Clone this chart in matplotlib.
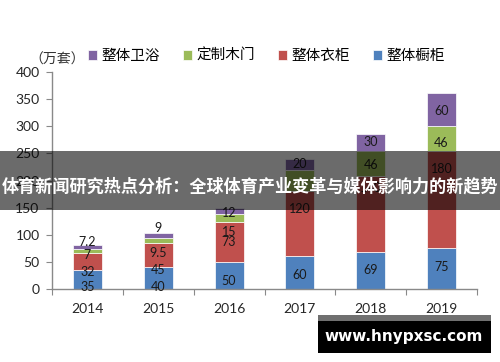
import numpy as np
import matplotlib
matplotlib.use('Agg')
import matplotlib.pyplot as plt
from matplotlib.patches import Rectangle

plt.rcParams['font.family'] = ['Lato', 'Noto Sans CJK SC', 'DejaVu Sans']

# dados
anos = ['2014', '2015', '2016', '2017', '2018', '2019']
series = ['整体橱柜', '整体衣柜', '定制木门', '整体卫浴']
chugui = [35, 40, 50, 60, 69, 75]
yigui = [32, 45, 73, 120, 140, 180]
mumen = [7, 9.5, 15, 40, 46, 46]
weiyu = [7.2, 9, 12, 20, 30, 60]
rotulos = [['35', '40', '50', '60', '69', '75'],
           ['32', '45', '73', '120', '140', '180'],
           ['7', '9.5', '15', '', '46', '46'],
           ['7.2', '9', '12', '20', '30', '60']]
cores = ['#4F81BD', '#C0504D', '#9BBB59', '#8064A2']

# deslocamento dos rotulos (pixels)
desloc = [[-8, -9, -6, -2, 0, 2],
          [-11, -15, 0, 15, 26, 31],
          [-4, -13, -14, 0, -2, -5],
          [5, 7, -2, 0, 1, -1]]

fig = plt.figure(figsize=(5, 3.62), dpi=100)
ax = fig.add_axes([0.104, 0.2017, 0.85, 0.599])

x = np.arange(len(anos))
valores = [chugui, yigui, mumen, weiyu]
base = np.zeros(len(anos))
barras = []
for i, v in enumerate(valores):
    v = np.array(v, dtype=float)
    b = ax.bar(x, v, width=0.41, bottom=base, color=cores[i],
               edgecolor='white', linewidth=0.5, label=series[i], zorder=2)
    barras.append(b)
    for j in range(len(anos)):
        if rotulos[i][j] == '':
            continue
        ax.annotate(rotulos[i][j], (x[j], base[j] + v[j] / 2),
                    xytext=(0, desloc[i][j]), textcoords='offset pixels',
                    ha='center', va='center', fontsize=9, color='#1a1a1a',
                    zorder=3)
    base = base + v

ax.set_xlim(-0.5, 5.5)
ax.set_ylim(0, 400)
ax.set_yticks(np.arange(0, 401, 50))
ax.set_xticks(np.arange(-0.5, 5.6, 1))
ax.set_xticklabels([])
ax.set_xticks(x, minor=True)
ax.set_xticklabels(anos, minor=True)
ax.tick_params(axis='x', which='major', length=4, color='#898989', direction='out')
ax.tick_params(axis='x', which='minor', length=0, pad=10, labelsize=10, labelcolor='#262626')
ax.tick_params(axis='y', length=4, color='#898989', pad=5, labelsize=10, labelcolor='#262626')
for s in ['top', 'right']:
    ax.spines[s].set_visible(False)
for s in ['left', 'bottom']:
    ax.spines[s].set_color('#898989')
    ax.spines[s].set_linewidth(1)

fig.text(0.058, 0.834, '（万套）', fontsize=10, color='#333333',
         family=['Noto Sans CJK SC'], va='center')

h = barras[::-1]
fig.legend(h, series[::-1], loc='center left', bbox_to_anchor=(0.15, 0.845),
           ncol=4, frameon=False, handlelength=0.6,
           handleheight=0.6, handletextpad=0.3, columnspacing=1.6,
           prop={'family': ['Noto Sans CJK SC'], 'size': 10.5})

# faixa escura
fig.patches.append(Rectangle((0, 1 - 210 / 362), 1, 59 / 362, transform=fig.transFigure,
                             facecolor='black', alpha=0.58, zorder=5))
fig.text(0.5, 1 - 186 / 362, '体育新闻研究热点分析：全球体育产业变革与媒体影响力的新趋势',
         ha='center', va='center', color='white', fontsize=12.3, fontweight='bold',
         family=['Noto Sans CJK SC'], zorder=6)

# marca d'agua
fig.patches.append(Rectangle((318 / 500, 1 - 321 / 362), 173 / 500, 6 / 362,
                             transform=fig.transFigure, facecolor='#707070', zorder=5))
fig.patches.append(Rectangle((318 / 500, 1 - 353 / 362), 173 / 500, 32 / 362,
                             transform=fig.transFigure, facecolor='black', zorder=5))
fig.text(404 / 500, 1 - 337 / 362, 'www.hnypxsc.com', ha='center', va='center',
         color='white', fontsize=11, fontweight='bold', family=['DejaVu Sans'], zorder=6)

fig.savefig('out.png', dpi=100)
